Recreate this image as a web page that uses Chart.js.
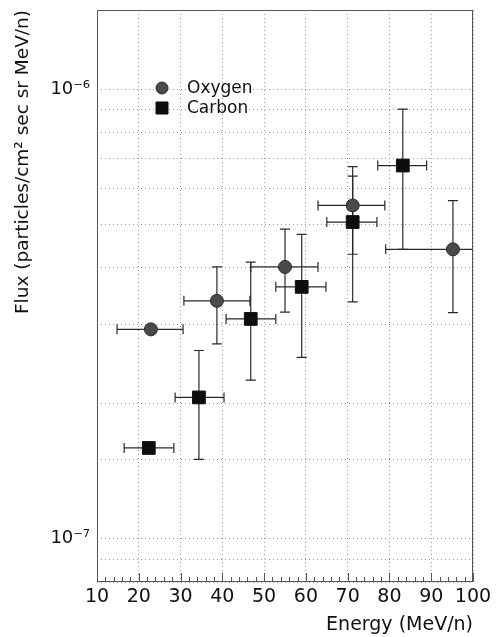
<!DOCTYPE html>
<html><head><meta charset="utf-8">
<script src="https://cdn.jsdelivr.net/npm/chart.js@4/dist/chart.umd.min.js"></script>
<style>html,body{margin:0;padding:0;background:#fff}#wrap{width:497px;height:637px}</style>
</head><body><div id="wrap"><canvas id="c" width="497" height="637"></canvas></div>
<script>
// ---- data ----
const seriesNames = ['Oxygen', 'Carbon'];
const oxygenEnergy   = [22.9, 38.7, 55.0, 71.2, 95.2];
const oxygenFlux     = [2.92e-7, 3.38e-7, 4.02e-7, 5.51e-7, 4.40e-7];
const oxygenEnergyLo = [14.8, 30.8, 46.8, 62.9, 79.1];
const oxygenEnergyHi = [30.6, 46.6, 62.9, 78.9, 111];
const oxygenFluxLo   = [null, 2.71e-7, 3.19e-7, 4.29e-7, 3.18e-7];
const oxygenFluxHi   = [null, 4.02e-7, 4.88e-7, 6.72e-7, 5.65e-7];

const carbonEnergy   = [22.4, 34.4, 46.8, 59.0, 71.2, 83.2];
const carbonFlux     = [1.59e-7, 2.06e-7, 3.08e-7, 3.63e-7, 5.06e-7, 6.76e-7];
const carbonEnergyLo = [16.5, 28.7, 40.9, 52.8, 65.0, 77.2];
const carbonEnergyHi = [28.4, 40.4, 52.8, 64.8, 77.0, 88.9];
const carbonFluxLo   = [null, 1.50e-7, 2.25e-7, 2.53e-7, 3.36e-7, 4.40e-7];
const carbonFluxHi   = [null, 2.62e-7, 4.12e-7, 4.75e-7, 6.40e-7, 9.03e-7];

const xTickLabels = ['10','20','30','40','50','60','70','80','90','100'];
const yTickLabels = {'-6': '10⁻⁶', '-7': '10⁻⁷'};
const xTitle = 'Energy (MeV/n)';
const yTitle = 'Flux (particles/cm² sec sr MeV/n)';

function pts(xs, ys, xlo, xhi, ylo, yhi) {
  return xs.map((x, i) => ({x: x, y: ys[i], xMin: xlo[i], xMax: xhi[i], yMin: ylo[i], yMax: yhi[i]}));
}

const FONT = "'DejaVu Sans', sans-serif";

const errorBars = {
  id: 'errorBars',
  beforeDatasetsDraw(chart) {
    const ctx = chart.ctx, xs = chart.scales.x, ys = chart.scales.y, a = chart.chartArea;
    ctx.save();
    ctx.beginPath(); ctx.rect(a.left, a.top, a.right - a.left, a.bottom - a.top); ctx.clip();
    ctx.strokeStyle = '#2a2a2a'; ctx.lineWidth = 1.2;
    const cap = 5;
    chart.data.datasets.forEach(ds => {
      ds.data.forEach(p => {
        const px = xs.getPixelForValue(p.x), py = ys.getPixelForValue(p.y);
        ctx.beginPath();
        if (p.xMin != null) {
          const l = xs.getPixelForValue(p.xMin), r = xs.getPixelForValue(p.xMax);
          ctx.moveTo(l, py); ctx.lineTo(r, py);
          ctx.moveTo(l, py - cap); ctx.lineTo(l, py + cap);
          ctx.moveTo(r, py - cap); ctx.lineTo(r, py + cap);
        }
        if (p.yMin != null) {
          const t = ys.getPixelForValue(p.yMax), b = ys.getPixelForValue(p.yMin);
          ctx.moveTo(px, t); ctx.lineTo(px, b);
          ctx.moveTo(px - cap, t); ctx.lineTo(px + cap, t);
          ctx.moveTo(px - cap, b); ctx.lineTo(px + cap, b);
        }
        ctx.stroke();
      });
    });
    ctx.restore();
  }
};

const frameAndTicks = {
  id: 'frameAndTicks',
  afterDraw(chart) {
    const ctx = chart.ctx, a = chart.chartArea, xs = chart.scales.x;
    ctx.save();
    ctx.strokeStyle = '#555'; ctx.lineWidth = 1;
    ctx.strokeRect(a.left + 0.5, a.top + 0.5, a.right - a.left - 1, a.bottom - a.top - 1);
    ctx.beginPath();
    for (let v = xs.min; v <= xs.max; v += 2) {
      const px = Math.round(xs.getPixelForValue(v)) + 0.5;
      const len = (v % 10 === 0) ? 9 : 5;
      ctx.moveTo(px, a.bottom); ctx.lineTo(px, a.bottom - len);
    }
    ctx.stroke();
    ctx.restore();
  }
};

const insideLegend = {
  id: 'insideLegend',
  afterDraw(chart) {
    const ctx = chart.ctx, a = chart.chartArea;
    ctx.save();
    ctx.font = '17px ' + FONT;
    ctx.textBaseline = 'middle';
    chart.data.datasets.forEach((ds, i) => {
      const cx = a.left + 65, cy = a.top + 78 + i * 20;
      ctx.fillStyle = ds.backgroundColor;
      ctx.strokeStyle = ds.borderColor;
      ctx.lineWidth = 1;
      ctx.beginPath();
      if (ds.pointStyle === 'rect') { ctx.rect(cx - 6, cy - 6, 12, 12); }
      else { ctx.arc(cx, cy, 6, 0, Math.PI * 2); }
      ctx.fill(); ctx.stroke();
      ctx.fillStyle = '#111';
      ctx.fillText(ds.label, a.left + 90, cy + 1);
    });
    ctx.restore();
  }
};

new Chart(document.getElementById('c'), {
  type: 'scatter',
  data: {
    datasets: [
      {label: seriesNames[0], data: pts(oxygenEnergy, oxygenFlux, oxygenEnergyLo, oxygenEnergyHi, oxygenFluxLo, oxygenFluxHi),
       pointStyle: 'circle', pointRadius: 6.5, backgroundColor: '#4a4a4a', borderColor: '#2a2a2a', borderWidth: 1},
      {label: seriesNames[1], data: pts(carbonEnergy, carbonFlux, carbonEnergyLo, carbonEnergyHi, carbonFluxLo, carbonFluxHi),
       pointStyle: 'rect', pointRadius: 9, backgroundColor: '#0d0d0d', borderColor: '#0d0d0d', borderWidth: 1}
    ]
  },
  options: {
    responsive: false, animation: false, devicePixelRatio: 1,
    layout: {padding: {left: 0, right: 24, top: 7, bottom: 0}},
    plugins: {legend: {display: false}, tooltip: {enabled: false}},
    scales: {
      x: {
        type: 'linear', min: 10, max: 100,
        afterBuildTicks: s => { s.ticks = xTickLabels.map(t => ({value: Number(t)})); },
        afterFit: s => { s.height = 55; },
        ticks: {font: {family: FONT, size: 19}, color: '#111', padding: 4, maxRotation: 0,
                callback: (v) => xTickLabels.find(t => Number(t) === v) || ''},
        grid: {color: '#999', lineWidth: 1, drawTicks: false},
        border: {display: false, dash: [1, 3]},
        title: {display: true, text: xTitle, align: 'end', color: '#111', font: {family: FONT, size: 19}, padding: {top: 0, bottom: 1}}
      },
      y: {
        type: 'logarithmic', min: 8e-8, max: 1.5e-6,
        afterFit: s => { s.width = 97; s.paddingTop = 0; s.paddingBottom = 0; },
        ticks: {font: {family: FONT, size: 18}, color: '#111', padding: 7, autoSkip: false,
                callback: (v) => { const e = Math.log10(v); const r = Math.round(e); return Math.abs(e - r) < 1e-6 ? (yTickLabels[String(r)] || '') : ''; }},
        grid: {color: '#999', lineWidth: 1, drawTicks: false},
        border: {display: false, dash: [1, 3]},
        title: {display: true, text: yTitle, align: 'end', color: '#111', font: {family: FONT, size: 18.5}, padding: {top: 12, bottom: 0}}
      }
    }
  },
  plugins: [errorBars, frameAndTicks, insideLegend]
});
</script></body></html>
